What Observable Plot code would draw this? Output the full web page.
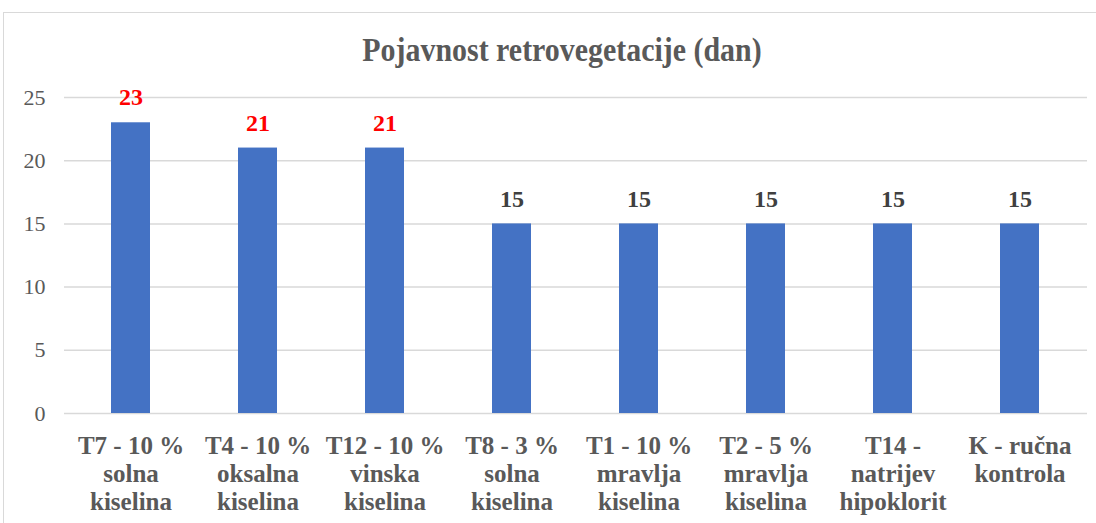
<!DOCTYPE html>
<html>
<head>
<meta charset="utf-8">
<script src="https://cdn.jsdelivr.net/npm/d3@7"></script>
<script src="https://cdn.jsdelivr.net/npm/@observablehq/plot@0.6"></script>
<style>
  html, body { margin: 0; padding: 0; background: #fff; }
  #wrap { position: relative; width: 1096px; height: 523px; overflow: hidden; }
  #frame { position: absolute; left: 3px; top: 12px; width: 1100px; height: 520px; border: 1px solid #d9d9d9; box-sizing: border-box; }
  #title { position: absolute; left: 14px; top: 30px; width: 1096px; text-align: center; line-height: 40px;
    font-family: "Liberation Serif", "Times New Roman", serif; font-weight: bold; font-size: 34px; color: #595959;
    transform: scaleX(0.88); transform-origin: 548px 0; }
  #chart { position: absolute; left: 0; top: 0; }
  #chart svg, #chart svg text { font-family: "Liberation Serif", "Times New Roman", serif !important; }
</style>
</head>
<body>
<div id="wrap">
  <div id="frame"></div>
  <div id="title">Pojavnost retrovegetacije (dan)</div>
  <div id="chart"></div>
</div>
<script>
const categories = [
  "T7 - 10 %\nsolna\nkiselina",
  "T4 - 10 %\noksalna\nkiselina",
  "T12 - 10 %\nvinska\nkiselina",
  "T8 - 3 %\nsolna\nkiselina",
  "T1 - 10 %\nmravlja\nkiselina",
  "T2 - 5 %\nmravlja\nkiselina",
  "T14 -\nnatrijev\nhipoklorit",
  "K - ručna\nkontrola"
];
const values = [23, 21, 21, 15, 15, 15, 15, 15];
const highlighted = [true, true, true, false, false, false, false, false];
const yTicks = [0, 5, 10, 15, 20, 25];

const data = categories.map((c, i) => ({cat: c, value: values[i], hl: highlighted[i]}));

const plot = Plot.plot({
  width: 1096,
  height: 523,
  marginLeft: 64,
  marginRight: 9,
  marginTop: 97,
  marginBottom: 110,
  style: { background: "transparent", overflow: "visible" },
  x: { domain: categories, paddingInner: 0.69, paddingOuter: 0.345, align: 0.5 },
  y: { domain: [0, 25] },
  marks: [
    Plot.gridY(yTicks, { stroke: "#d9d9d9", strokeOpacity: 1, strokeWidth: 1.5 }),
    Plot.barY(data, { x: "cat", y: "value", fill: "#4472C4" }),
    Plot.text(data, {
      x: "cat", y: "value", text: d => String(d.value), dy: -25,
      fill: d => d.hl ? "#ff0000" : "#404040",
      fontSize: 24, fontWeight: "bold"
    }),
    Plot.axisY({ ticks: yTicks, tickSize: 0, tickPadding: 19, fontSize: 22, fill: "#595959", label: null }),
    Plot.axisX({ tickSize: 0, tickPadding: 20, fontSize: 25, fontWeight: "bold", fill: "#595959",
      lineHeight: 1.13, label: null, lineAnchor: "top" })
  ]
});
document.getElementById("chart").appendChild(plot);
</script>
</body>
</html>
